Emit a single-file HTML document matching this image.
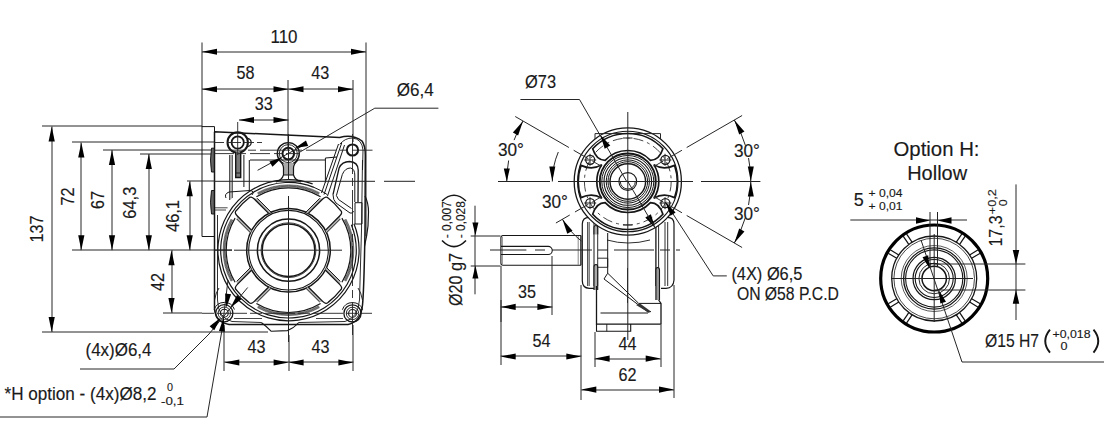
<!DOCTYPE html>
<html><head><meta charset="utf-8"><style>
html,body{margin:0;padding:0;background:#fff;width:1104px;height:440px;overflow:hidden}
svg{display:block;font-family:"Liberation Sans",sans-serif}
</style></head><body>
<svg width="1104" height="440" viewBox="0 0 1104 440">
<line x1="202.00" y1="52.00" x2="366.00" y2="52.00" stroke="#262626" stroke-width="1.0"/>
<polygon points="202.00,51.75 217.00,48.65 217.00,54.85" fill="#000"/>
<polygon points="366.00,51.75 351.00,54.85 351.00,48.65" fill="#000"/>
<text x="284.00" y="42.50" font-size="17.5" text-anchor="middle" fill="#1a1a1a" stroke="#1a1a1a" stroke-width="0.15" textLength="27" lengthAdjust="spacingAndGlyphs">110</text>
<line x1="202.00" y1="42.50" x2="202.00" y2="127.00" stroke="#262626" stroke-width="1.0"/>
<line x1="366.00" y1="42.50" x2="366.00" y2="236.00" stroke="#262626" stroke-width="1.0"/>
<line x1="202.00" y1="89.00" x2="288.50" y2="89.00" stroke="#262626" stroke-width="1.0"/>
<polygon points="202.00,89.25 217.00,86.15 217.00,92.35" fill="#000"/>
<polygon points="288.50,89.25 273.50,92.35 273.50,86.15" fill="#000"/>
<line x1="288.50" y1="89.00" x2="353.00" y2="89.00" stroke="#262626" stroke-width="1.0"/>
<polygon points="288.50,89.25 303.50,86.15 303.50,92.35" fill="#000"/>
<polygon points="353.00,89.25 338.00,92.35 338.00,86.15" fill="#000"/>
<text x="245.40" y="79.30" font-size="17.5" text-anchor="middle" fill="#1a1a1a" stroke="#1a1a1a" stroke-width="0.15" textLength="18" lengthAdjust="spacingAndGlyphs">58</text>
<text x="320.20" y="79.30" font-size="17.5" text-anchor="middle" fill="#1a1a1a" stroke="#1a1a1a" stroke-width="0.15" textLength="18" lengthAdjust="spacingAndGlyphs">43</text>
<line x1="288.00" y1="80.00" x2="288.00" y2="150.00" stroke="#262626" stroke-width="1.0"/>
<line x1="353.00" y1="80.00" x2="353.00" y2="142.00" stroke="#262626" stroke-width="1.0"/>
<line x1="239.00" y1="120.00" x2="288.50" y2="120.00" stroke="#262626" stroke-width="1.0"/>
<polygon points="239.00,120.00 254.00,116.90 254.00,123.10" fill="#000"/>
<polygon points="288.50,120.00 273.50,123.10 273.50,116.90" fill="#000"/>
<text x="263.70" y="110.00" font-size="17.5" text-anchor="middle" fill="#1a1a1a" stroke="#1a1a1a" stroke-width="0.15" textLength="18" lengthAdjust="spacingAndGlyphs">33</text>
<line x1="52.00" y1="126.50" x2="52.00" y2="332.00" stroke="#262626" stroke-width="1.0"/>
<polygon points="51.70,126.50 54.80,141.50 48.60,141.50" fill="#000"/>
<polygon points="51.70,332.00 48.60,317.00 54.80,317.00" fill="#000"/>
<text x="42.90" y="229.00" font-size="17.5" text-anchor="middle" fill="#1a1a1a" stroke="#1a1a1a" stroke-width="0.15" textLength="27" lengthAdjust="spacingAndGlyphs" transform="rotate(-90 42.90 229.00)">137</text>
<line x1="81.00" y1="142.50" x2="81.00" y2="250.20" stroke="#262626" stroke-width="1.0"/>
<polygon points="81.30,142.50 84.40,157.50 78.20,157.50" fill="#000"/>
<polygon points="81.30,250.20 78.20,235.20 84.40,235.20" fill="#000"/>
<text x="73.60" y="196.60" font-size="17.5" text-anchor="middle" fill="#1a1a1a" stroke="#1a1a1a" stroke-width="0.15" textLength="18" lengthAdjust="spacingAndGlyphs" transform="rotate(-90 73.60 196.60)">72</text>
<line x1="112.00" y1="150.00" x2="112.00" y2="250.20" stroke="#262626" stroke-width="1.0"/>
<polygon points="112.00,150.00 115.10,165.00 108.90,165.00" fill="#000"/>
<polygon points="112.00,250.20 108.90,235.20 115.10,235.20" fill="#000"/>
<text x="103.80" y="200.00" font-size="17.5" text-anchor="middle" fill="#1a1a1a" stroke="#1a1a1a" stroke-width="0.15" textLength="18" lengthAdjust="spacingAndGlyphs" transform="rotate(-90 103.80 200.00)">67</text>
<line x1="149.00" y1="154.00" x2="149.00" y2="250.20" stroke="#262626" stroke-width="1.0"/>
<polygon points="148.80,154.00 151.90,169.00 145.70,169.00" fill="#000"/>
<polygon points="148.80,250.20 145.70,235.20 151.90,235.20" fill="#000"/>
<text x="136.50" y="202.70" font-size="17.5" text-anchor="middle" fill="#1a1a1a" stroke="#1a1a1a" stroke-width="0.15" textLength="32" lengthAdjust="spacingAndGlyphs" transform="rotate(-90 136.50 202.70)">64,3</text>
<line x1="190.00" y1="181.20" x2="190.00" y2="250.20" stroke="#262626" stroke-width="1.0"/>
<polygon points="189.70,181.20 192.80,196.20 186.60,196.20" fill="#000"/>
<polygon points="189.70,250.20 186.60,235.20 192.80,235.20" fill="#000"/>
<text x="178.50" y="216.00" font-size="17.5" text-anchor="middle" fill="#1a1a1a" stroke="#1a1a1a" stroke-width="0.15" textLength="32" lengthAdjust="spacingAndGlyphs" transform="rotate(-90 178.50 216.00)">46,1</text>
<line x1="172.00" y1="250.20" x2="172.00" y2="313.00" stroke="#262626" stroke-width="1.0"/>
<polygon points="171.50,250.20 174.60,265.20 168.40,265.20" fill="#000"/>
<polygon points="171.50,313.00 168.40,298.00 174.60,298.00" fill="#000"/>
<text x="164.00" y="282.00" font-size="17.5" text-anchor="middle" fill="#1a1a1a" stroke="#1a1a1a" stroke-width="0.15" textLength="18" lengthAdjust="spacingAndGlyphs" transform="rotate(-90 164.00 282.00)">42</text>
<line x1="42.00" y1="126.00" x2="202.00" y2="126.00" stroke="#262626" stroke-width="1.0"/>
<line x1="72.00" y1="142.00" x2="214.00" y2="142.00" stroke="#262626" stroke-width="1.0"/>
<line x1="103.00" y1="150.00" x2="214.00" y2="150.00" stroke="#262626" stroke-width="1.0"/>
<line x1="140.00" y1="154.00" x2="214.00" y2="154.00" stroke="#262626" stroke-width="1.0"/>
<line x1="187.00" y1="181.00" x2="214.00" y2="181.00" stroke="#262626" stroke-width="1.0"/>
<line x1="72.00" y1="250.00" x2="232.00" y2="250.00" stroke="#262626" stroke-width="1.0"/>
<line x1="163.00" y1="313.00" x2="202.00" y2="313.00" stroke="#262626" stroke-width="1.0"/>
<line x1="42.00" y1="332.00" x2="268.00" y2="332.00" stroke="#262626" stroke-width="1.0"/>
<line x1="224.30" y1="362.00" x2="288.60" y2="362.00" stroke="#262626" stroke-width="1.0"/>
<polygon points="224.30,362.50 239.30,359.40 239.30,365.60" fill="#000"/>
<polygon points="288.60,362.50 273.60,365.60 273.60,359.40" fill="#000"/>
<line x1="288.60" y1="362.00" x2="353.40" y2="362.00" stroke="#262626" stroke-width="1.0"/>
<polygon points="288.60,362.50 303.60,359.40 303.60,365.60" fill="#000"/>
<polygon points="353.40,362.50 338.40,365.60 338.40,359.40" fill="#000"/>
<text x="256.50" y="352.70" font-size="17.5" text-anchor="middle" fill="#1a1a1a" stroke="#1a1a1a" stroke-width="0.15" textLength="18" lengthAdjust="spacingAndGlyphs">43</text>
<text x="320.50" y="352.70" font-size="17.5" text-anchor="middle" fill="#1a1a1a" stroke="#1a1a1a" stroke-width="0.15" textLength="18" lengthAdjust="spacingAndGlyphs">43</text>
<line x1="224.00" y1="325.00" x2="224.00" y2="371.00" stroke="#262626" stroke-width="1.0"/>
<line x1="353.00" y1="325.00" x2="353.00" y2="371.00" stroke="#262626" stroke-width="1.0"/>
<line x1="289.00" y1="335.00" x2="289.00" y2="371.00" stroke="#262626" stroke-width="1.0"/>
<polyline points="80.00,369.00 174.00,369.00 209.00,334.00" fill="none" stroke="#262626" stroke-width="1.0"/>
<text x="118.50" y="356.00" font-size="17.5" text-anchor="middle" fill="#1a1a1a" stroke="#1a1a1a" stroke-width="0.15" textLength="66" lengthAdjust="spacingAndGlyphs">(4x)&#216;6,4</text>
<polyline points="0.00,417.00 207.00,417.00 222.00,330.00" fill="none" stroke="#262626" stroke-width="1.0"/>
<text x="4.50" y="400.00" font-size="17.5" text-anchor="start" fill="#1a1a1a" stroke="#1a1a1a" stroke-width="0.15" textLength="152" lengthAdjust="spacingAndGlyphs">*H option - (4x)&#216;8,2</text>
<text x="170.00" y="391.00" font-size="11" text-anchor="middle" fill="#1a1a1a" stroke="#1a1a1a" stroke-width="0.15" textLength="6" lengthAdjust="spacingAndGlyphs">0</text>
<text x="172.50" y="405.00" font-size="11" text-anchor="middle" fill="#1a1a1a" stroke="#1a1a1a" stroke-width="0.15" textLength="23" lengthAdjust="spacingAndGlyphs">-0,1</text>
<polyline points="438.40,108.20 374.80,108.20 300.00,152.00" fill="none" stroke="#262626" stroke-width="1.0"/>
<text x="415.20" y="96.40" font-size="17.5" text-anchor="middle" fill="#1a1a1a" stroke="#1a1a1a" stroke-width="0.15" textLength="37" lengthAdjust="spacingAndGlyphs">&#216;6,4</text>
<path d="M202,236.5 L202,126.6 L214.5,126.6 L214.5,236.5 Z" fill="none" stroke="#161616" stroke-width="1.0" />
<path d="M211.5,148.2 Q209.5,160 211.5,172 L214.5,172 L214.5,148.2 Z" fill="#666" stroke="#161616" stroke-width="1.0" />
<path d="M211.5,190.5 Q209.5,202 211.5,214 L214.5,214 L214.5,190.5 Z" fill="#666" stroke="#161616" stroke-width="1.0" />
<path d="M214.5,131.8 L339.7,137.5 Q352.5,134 362,141 Q365.5,146 365.3,156 L365,230 Q364,290 362.5,305 Q361,322 348,324.4 L229,324.4 Q215.5,322 214.5,309 L214.5,131.8" fill="none" stroke="#161616" stroke-width="1.5" />
<path d="M217.5,215 L217.5,300 Q218,318 232,321.5 L261.3,322.5 M298.8,322.5 L345,321.5 Q358,318 359.5,300 L361.5,230 L362.5,160" fill="none" stroke="#161616" stroke-width="0.9" />
<path d="M261.3,322.5 Q266,326 271.3,331.3 L287.5,330.6 Q294,328 298.8,322.5" fill="none" stroke="#161616" stroke-width="1.1" />
<path d="M339.7,144.3 Q345,138 352.5,138 Q362,139 363,150 L362.5,170" fill="none" stroke="#161616" stroke-width="0.9" />
<path d="M341.8,142.7 L324,194.6 M344.5,145 L327.5,196 M338.5,144 L321.5,193" fill="none" stroke="#161616" stroke-width="1.0" />
<path d="M333,194.6 L339.1,168 Q342,161.5 349.5,161.5 Q358,162 358.2,170 L358,202" fill="none" stroke="#161616" stroke-width="1.3" />
<path d="M336.4,195.5 L342.3,174.5 Q345,168 350.5,168 Q354.8,169 354.8,175 L354.8,202" fill="none" stroke="#161616" stroke-width="1.0" />
<path d="M333,194.6 Q333,200 336,203 L350,213 Q353,214 353.5,211 M336.4,195.5 L338.5,199.5 L351.5,208.5" fill="none" stroke="#161616" stroke-width="1.0" />
<path d="M355,202.7 L362,202.7 L362,224 L355,224 Z" fill="none" stroke="#161616" stroke-width="1.0" />
<path d="M325.4,182.5 L325.4,158 L337,157" fill="none" stroke="#161616" stroke-width="1.0" />
<line x1="250.00" y1="160.00" x2="325.40" y2="160.00" stroke="#161616" stroke-width="1.0"/>
<path d="M229.6,155 L229.6,200" fill="none" stroke="#161616" stroke-width="1.2" />
<path d="M232.3,155 L232.3,198" fill="none" stroke="#161616" stroke-width="1.0" />
<path d="M229.6,155 L232.3,155 L232.3,198 L229.6,200 Z" fill="#aaa" stroke="#161616" stroke-width="0" />
<path d="M243.9,155 L243.9,187" fill="none" stroke="#161616" stroke-width="1.0" />
<path d="M249.3,160 L249.3,190" fill="none" stroke="#161616" stroke-width="1.0" />
<path d="M226,198 Q224,194 229,192 L250,190.5 Q255,191 252,195" fill="none" stroke="#161616" stroke-width="1.0" />
<path d="M214.5,207.8 L227.6,207.8 M214.5,210 L226,210" fill="none" stroke="#161616" stroke-width="0.8" />
<circle cx="288.50" cy="250.20" r="26.30" fill="none" stroke="#161616" stroke-width="1.5"/>
<circle cx="288.50" cy="250.20" r="27.40" fill="none" stroke="#161616" stroke-width="0.8"/>
<circle cx="288.50" cy="250.20" r="31.10" fill="none" stroke="#161616" stroke-width="1.5"/>
<circle cx="288.50" cy="250.20" r="39.80" fill="none" stroke="#161616" stroke-width="1.1"/>
<circle cx="288.50" cy="250.20" r="41.80" fill="none" stroke="#161616" stroke-width="1.5"/>
<path d="M351.36,224.80 A67.80,67.80 0 1 1 313.90,187.34" fill="none" stroke="#161616" stroke-width="1.2"/>
<path d="M353.96,223.75 A70.60,70.60 0 1 1 312.65,183.86" fill="none" stroke="#161616" stroke-width="1.2"/>
<path d="M313.90,187.34 A67.80,67.80 0 0 1 327.39,194.66" fill="none" stroke="#161616" stroke-width="1.0"/>
<path d="M256.41,196.80 A62.30,62.30 0 0 1 320.59,196.80" fill="none" stroke="#161616" stroke-width="1.2"/>
<path d="M258.25,194.48 A63.40,63.40 0 0 1 318.75,194.48" fill="none" stroke="#161616" stroke-width="0.55"/>
<path d="M257.94,193.91 A64.05,64.05 0 0 1 319.06,193.91" fill="none" stroke="#161616" stroke-width="0.55"/>
<path d="M257.63,193.34 A64.70,64.70 0 0 1 319.37,193.34" fill="none" stroke="#161616" stroke-width="0.55"/>
<path d="M257.32,192.77 A65.35,65.35 0 0 1 319.68,192.77" fill="none" stroke="#161616" stroke-width="0.55"/>
<path d="M320.59,303.60 A62.30,62.30 0 0 1 256.41,303.60" fill="none" stroke="#161616" stroke-width="1.2"/>
<path d="M318.75,305.92 A63.40,63.40 0 0 1 258.25,305.92" fill="none" stroke="#161616" stroke-width="0.55"/>
<path d="M319.06,306.49 A64.05,64.05 0 0 1 257.94,306.49" fill="none" stroke="#161616" stroke-width="0.55"/>
<path d="M319.37,307.06 A64.70,64.70 0 0 1 257.63,307.06" fill="none" stroke="#161616" stroke-width="0.55"/>
<path d="M319.68,307.63 A65.35,65.35 0 0 1 257.32,307.63" fill="none" stroke="#161616" stroke-width="0.55"/>
<path d="M235.10,282.29 A62.30,62.30 0 0 1 235.10,218.11" fill="none" stroke="#161616" stroke-width="1.2"/>
<path d="M232.78,280.45 A63.40,63.40 0 0 1 232.78,219.95" fill="none" stroke="#161616" stroke-width="0.55"/>
<path d="M232.21,280.76 A64.05,64.05 0 0 1 232.21,219.64" fill="none" stroke="#161616" stroke-width="0.55"/>
<path d="M231.64,281.07 A64.70,64.70 0 0 1 231.64,219.33" fill="none" stroke="#161616" stroke-width="0.55"/>
<path d="M231.07,281.38 A65.35,65.35 0 0 1 231.07,219.02" fill="none" stroke="#161616" stroke-width="0.55"/>
<path d="M341.90,218.11 A62.30,62.30 0 0 1 341.90,282.29" fill="none" stroke="#161616" stroke-width="1.2"/>
<path d="M344.22,219.95 A63.40,63.40 0 0 1 344.22,280.45" fill="none" stroke="#161616" stroke-width="0.55"/>
<path d="M344.79,219.64 A64.05,64.05 0 0 1 344.79,280.76" fill="none" stroke="#161616" stroke-width="0.55"/>
<path d="M345.36,219.33 A64.70,64.70 0 0 1 345.36,281.07" fill="none" stroke="#161616" stroke-width="0.55"/>
<path d="M345.93,219.02 A65.35,65.35 0 0 1 345.93,281.38" fill="none" stroke="#161616" stroke-width="0.55"/>
<path d="M308.33,287.00 L323.03,301.70 L319.69,302.04 L305.87,288.22 Z" fill="#b4b4b4" stroke="#161616" stroke-width="0" />
<line x1="305.87" y1="288.22" x2="319.69" y2="302.04" stroke="#161616" stroke-width="1.0"/>
<path d="M325.30,270.03 L340.00,284.73 L340.34,281.39 L326.52,267.57 Z" fill="#b4b4b4" stroke="#161616" stroke-width="0" />
<line x1="326.52" y1="267.57" x2="340.34" y2="281.39" stroke="#161616" stroke-width="1.0"/>
<path d="M308.33,287.00 L322.67,301.34 Q326.27,304.94 328.41,302.13 A65.5,65.5 0 0 0 340.43,290.11 Q343.24,287.97 339.64,284.37 L325.30,270.03" fill="none" stroke="#161616" stroke-width="1.3" />
<path d="M251.70,270.03 L237.00,284.73 L236.66,281.39 L250.48,267.57 Z" fill="#b4b4b4" stroke="#161616" stroke-width="0" />
<line x1="250.48" y1="267.57" x2="236.66" y2="281.39" stroke="#161616" stroke-width="1.0"/>
<path d="M268.67,287.00 L253.97,301.70 L257.31,302.04 L271.13,288.22 Z" fill="#b4b4b4" stroke="#161616" stroke-width="0" />
<line x1="271.13" y1="288.22" x2="257.31" y2="302.04" stroke="#161616" stroke-width="1.0"/>
<path d="M251.70,270.03 L237.36,284.37 Q233.76,287.97 236.57,290.11 A65.5,65.5 0 0 0 248.59,302.13 Q250.73,304.94 254.33,301.34 L268.67,287.00" fill="none" stroke="#161616" stroke-width="1.3" />
<path d="M268.67,213.40 L253.97,198.70 L257.31,198.36 L271.13,212.18 Z" fill="#b4b4b4" stroke="#161616" stroke-width="0" />
<line x1="271.13" y1="212.18" x2="257.31" y2="198.36" stroke="#161616" stroke-width="1.0"/>
<path d="M251.70,230.37 L237.00,215.67 L236.66,219.01 L250.48,232.83 Z" fill="#b4b4b4" stroke="#161616" stroke-width="0" />
<line x1="250.48" y1="232.83" x2="236.66" y2="219.01" stroke="#161616" stroke-width="1.0"/>
<path d="M268.67,213.40 L254.33,199.06 Q250.73,195.46 248.59,198.27 A65.5,65.5 0 0 0 236.57,210.29 Q233.76,212.43 237.36,216.03 L251.70,230.37" fill="none" stroke="#161616" stroke-width="1.3" />
<path d="M325.30,230.37 L340.00,215.67 L340.34,219.01 L326.52,232.83 Z" fill="#b4b4b4" stroke="#161616" stroke-width="0" />
<line x1="326.52" y1="232.83" x2="340.34" y2="219.01" stroke="#161616" stroke-width="1.0"/>
<path d="M308.33,213.40 L323.03,198.70 L319.69,198.36 L305.87,212.18 Z" fill="#b4b4b4" stroke="#161616" stroke-width="0" />
<line x1="305.87" y1="212.18" x2="319.69" y2="198.36" stroke="#161616" stroke-width="1.0"/>
<path d="M325.30,230.37 L339.64,216.03 Q343.24,212.43 340.43,210.29 A65.5,65.5 0 0 0 328.41,198.27 Q326.27,195.46 322.67,199.06 L308.33,213.40" fill="none" stroke="#161616" stroke-width="1.3" />
<path d="M214.15,309.51 A10.80,10.80 0 0 1 234.45,309.51" fill="none" stroke="#161616" stroke-width="1.0"/>
<path d="M342.35,309.71 A10.80,10.80 0 0 1 362.65,309.71" fill="none" stroke="#161616" stroke-width="1.0"/>
<path d="M214.5,300 Q216,292 219,288 M362.5,300 Q361,292 358,288" fill="none" stroke="#161616" stroke-width="0.9" />
<line x1="234.00" y1="318.50" x2="262.00" y2="318.50" stroke="#161616" stroke-width="0.8"/>
<line x1="316.00" y1="318.50" x2="343.00" y2="318.50" stroke="#161616" stroke-width="0.8"/>
<circle cx="237.70" cy="142.50" r="10.20" fill="none" stroke="#161616" stroke-width="2.0"/>
<circle cx="237.70" cy="142.50" r="6.10" fill="none" stroke="#161616" stroke-width="1.8"/>
<path d="M247.2,138.5 A4,4 0 1 1 247.2,146.5" fill="none" stroke="#161616" stroke-width="1.3" />
<circle cx="288.30" cy="153.60" r="11.00" fill="none" stroke="#161616" stroke-width="1.4"/>
<circle cx="288.30" cy="153.60" r="9.00" fill="none" stroke="#161616" stroke-width="0.9"/>
<circle cx="288.30" cy="153.60" r="5.80" fill="none" stroke="#161616" stroke-width="2.0"/>
<circle cx="352.50" cy="150.00" r="5.60" fill="none" stroke="#161616" stroke-width="2.0"/>
<circle cx="224.30" cy="313.20" r="8.60" fill="none" stroke="#161616" stroke-width="1.3"/>
<circle cx="224.30" cy="313.20" r="6.20" fill="none" stroke="#161616" stroke-width="0.9"/>
<circle cx="224.30" cy="313.20" r="3.90" fill="none" stroke="#161616" stroke-width="1.1"/>
<circle cx="352.50" cy="313.40" r="8.60" fill="none" stroke="#161616" stroke-width="1.3"/>
<circle cx="352.50" cy="313.40" r="6.20" fill="none" stroke="#161616" stroke-width="0.9"/>
<circle cx="352.50" cy="313.40" r="3.90" fill="none" stroke="#161616" stroke-width="1.1"/>
<path d="M235.7,152 L235.7,177.5 L240.7,177.5 L240.7,152" fill="#777" stroke="#161616" stroke-width="1.4" />
<line x1="236.00" y1="173.00" x2="240.50" y2="173.00" stroke="#161616" stroke-width="0.9"/>
<path d="M283.5,163 L293.5,163 L293.5,175 L283.5,175 Z" fill="#aaa" stroke="#161616" stroke-width="0" />
<path d="M279,160 Q283.5,164 283.5,168 L283.5,175 Q282,180 276,182 M298,160 Q293.5,164 293.5,168 L293.5,175 Q295,180 301,182" fill="none" stroke="#161616" stroke-width="1.2" />
<line x1="283.50" y1="175.00" x2="293.50" y2="175.00" stroke="#161616" stroke-width="1.0"/>
<line x1="288.50" y1="163.00" x2="288.50" y2="175.00" stroke="#161616" stroke-width="0.8"/>
<line x1="288.50" y1="134.00" x2="288.50" y2="180.00" stroke="#222" stroke-width="1.0"/>
<line x1="288.50" y1="196.00" x2="288.50" y2="342.00" stroke="#222" stroke-width="1.0"/>
<line x1="214.00" y1="250.20" x2="232.00" y2="250.20" stroke="#222" stroke-width="1.0"/>
<line x1="234.00" y1="250.20" x2="342.00" y2="250.20" stroke="#222" stroke-width="1.0"/>
<line x1="214.00" y1="142.50" x2="262.00" y2="142.50" stroke="#222" stroke-width="0.9" stroke-dasharray="10 3 14 3"/>
<line x1="214.00" y1="150.20" x2="372.50" y2="150.20" stroke="#222" stroke-width="0.9" stroke-dasharray="30 4 8 4"/>
<line x1="214.00" y1="153.60" x2="300.00" y2="153.60" stroke="#222" stroke-width="0.9" stroke-dasharray="20 4 8 4"/>
<line x1="214.00" y1="181.30" x2="375.00" y2="181.30" stroke="#222" stroke-width="1.0"/>
<line x1="384.00" y1="181.30" x2="415.00" y2="181.30" stroke="#222" stroke-width="1.0"/>
<line x1="202.00" y1="313.30" x2="372.00" y2="313.30" stroke="#222" stroke-width="0.9" stroke-dasharray="12 3 30 3"/>
<line x1="352.50" y1="134.00" x2="352.50" y2="335.00" stroke="#222" stroke-width="0.9" stroke-dasharray="40 4 8 4"/>
<line x1="237.70" y1="122.00" x2="237.70" y2="155.00" stroke="#222" stroke-width="0.9"/>
<line x1="257.60" y1="170.30" x2="306.90" y2="143.30" stroke="#262626" stroke-width="1.0"/>
<polygon points="282.20,157.60 272.46,166.72 269.45,161.53" fill="#000"/>
<polygon points="295.00,148.00 305.96,140.39 308.18,145.96" fill="#000"/>
<line x1="209.00" y1="334.00" x2="247.70" y2="287.50" stroke="#262626" stroke-width="1.0"/>
<line x1="174.00" y1="369.00" x2="209.00" y2="334.00" stroke="#262626" stroke-width="1.0"/>
<polygon points="220.90,317.50 214.26,330.18 209.64,326.35" fill="#000"/>
<polygon points="230.40,307.80 237.04,295.12 241.66,298.95" fill="#000"/>
<line x1="222.00" y1="330.00" x2="228.00" y2="280.00" stroke="#262626" stroke-width="1.0"/>
<polygon points="223.60,317.50 224.91,331.76 218.95,331.04" fill="#000"/>
<polygon points="226.40,307.70 225.09,293.44 231.05,294.16" fill="#000"/>
<path d="M365,196 Q368.5,203 368.5,212 L368,226 Q367,236 364.5,246" fill="none" stroke="#161616" stroke-width="1.2" />
<path d="M582.3,290 L582.3,224 Q582.5,217.3 589,217.3 L667.5,217.3 Q674,217.3 674,224 L674,280 Q673.5,288 666,288.3 L589.3,288.3 Q582,288 581.4,282.7 Z" fill="#fff" stroke="#161616" stroke-width="0" />
<path d="M596.5,288.3 L589.3,288.3 Q582,288 582.3,280 L582.3,224 Q582.5,217.3 589,217.3 L667.5,217.3 Q674,217.3 674,224 L674,280 Q673.5,288 666,288.3 L661,288.3" fill="none" stroke="#161616" stroke-width="1.2" />
<line x1="587.70" y1="222.00" x2="587.70" y2="286.00" stroke="#161616" stroke-width="0.9"/>
<line x1="589.20" y1="222.00" x2="589.20" y2="286.00" stroke="#161616" stroke-width="0.8"/>
<line x1="594.00" y1="222.00" x2="594.00" y2="286.00" stroke="#161616" stroke-width="1.0"/>
<line x1="597.70" y1="222.00" x2="597.70" y2="286.00" stroke="#161616" stroke-width="0.9"/>
<line x1="655.90" y1="222.00" x2="655.90" y2="286.00" stroke="#161616" stroke-width="1.3"/>
<line x1="658.60" y1="222.00" x2="658.60" y2="286.00" stroke="#161616" stroke-width="0.9"/>
<line x1="665.00" y1="222.00" x2="665.00" y2="286.00" stroke="#161616" stroke-width="0.9"/>
<line x1="667.70" y1="222.00" x2="667.70" y2="286.00" stroke="#161616" stroke-width="0.9"/>
<path d="M594,234.5 L594,227.5 Q594,225.5 596,225.5 Q597.7,225.5 597.7,228 L597.7,234.5" fill="#aaa" stroke="#161616" stroke-width="1.1" />
<path d="M594,290 L594,267 Q594,264.5 596,264.5 Q597.7,264.5 597.7,267 L597.7,290" fill="#aaa" stroke="#161616" stroke-width="1.1" />
<path d="M655.9,300 L655.9,270 Q655.9,267.5 657.5,267.5 Q659.5,267.5 659.5,270 L659.5,300" fill="#999" stroke="#161616" stroke-width="1.1" />
<path d="M597.7,258.2 L607.7,258.2 L607.7,267.3 L597.7,267.3" fill="none" stroke="#161616" stroke-width="0.9" />
<line x1="607.70" y1="233.00" x2="607.70" y2="273.20" stroke="#161616" stroke-width="1.0"/>
<path d="M607,240 Q628,246 650,240" fill="none" stroke="#161616" stroke-width="0.9" />
<path d="M596.5,286 L596.5,324.1 L661,324.1 L661,303.4 L658.6,300" fill="none" stroke="#161616" stroke-width="1.3" />
<path d="M607.7,273.2 L638.7,303.4 M604,279 L648.2,312.2 L651,311.5" fill="none" stroke="#161616" stroke-width="1.0" />
<path d="M607.7,273.2 L604,279" fill="none" stroke="#161616" stroke-width="1.0" />
<path d="M636,305 L648.2,312.2 L651,311.5 L640,303.4 Z" fill="#333" stroke="#161616" stroke-width="0" />
<line x1="600.50" y1="313.00" x2="648.00" y2="313.00" stroke="#161616" stroke-width="1.0"/>
<line x1="638.70" y1="303.40" x2="661.00" y2="303.40" stroke="#161616" stroke-width="1.0"/>
<path d="M596.5,324.1 L596.5,331.3 L630.7,331.3 L630.7,324.1" fill="none" stroke="#161616" stroke-width="1.1" />
<line x1="606.80" y1="324.10" x2="606.80" y2="331.30" stroke="#161616" stroke-width="0.9"/>
<line x1="627.50" y1="268.00" x2="627.50" y2="303.00" stroke="#161616" stroke-width="0.8"/>
<circle cx="627.80" cy="181.50" r="53.60" fill="#fff" stroke="#161616" stroke-width="1.3"/>
<circle cx="627.80" cy="181.50" r="50.20" fill="none" stroke="#161616" stroke-width="1.1"/>
<polyline points="595.00,139.00 595.00,133.60 660.50,133.60 660.50,139.00" fill="none" stroke="#262626" stroke-width="1.0"/>
<circle cx="627.80" cy="181.50" r="43.40" fill="none" stroke="#161616" stroke-width="0.8" stroke-dasharray="10 4 3 4"/>
<line x1="623.00" y1="138.00" x2="632.50" y2="138.00" stroke="#262626" stroke-width="1.0"/>
<line x1="623.00" y1="225.00" x2="632.50" y2="225.00" stroke="#262626" stroke-width="1.0"/>
<path d="M592.70,148.76 A48.00,48.00 0 0 1 662.90,148.76 Q659.30,160.25 650.47,160.36 A31.00,31.00 0 0 0 605.13,160.36 Q596.30,160.25 592.70,148.76 Z" fill="none" stroke="#161616" stroke-width="1.7" />
<path d="M662.90,214.24 A48.00,48.00 0 0 1 592.70,214.24 Q596.30,202.75 605.13,202.64 A31.00,31.00 0 0 0 650.47,202.64 Q659.30,202.75 662.90,214.24 Z" fill="none" stroke="#161616" stroke-width="1.7" />
<path d="M581.00,197.62 A49.50,49.50 0 0 1 581.00,165.38 Q592.42,170.68 601.80,164.62 A31.00,31.00 0 0 0 601.80,198.38 Q592.42,192.32 581.00,197.62 Z" fill="none" stroke="#161616" stroke-width="1.7" />
<path d="M674.60,165.38 A49.50,49.50 0 0 1 674.60,197.62 Q663.18,192.32 653.80,198.38 A31.00,31.00 0 0 0 653.80,164.62 Q663.18,170.68 674.60,165.38 Z" fill="none" stroke="#161616" stroke-width="1.7" />
<circle cx="665.39" cy="203.20" r="4.50" fill="none" stroke="#161616" stroke-width="1.3"/>
<line x1="659.39" y1="203.00" x2="671.39" y2="203.00" stroke="#262626" stroke-width="1.0"/>
<line x1="665.00" y1="197.20" x2="665.00" y2="209.20" stroke="#262626" stroke-width="1.0"/>
<circle cx="590.21" cy="203.20" r="4.50" fill="none" stroke="#161616" stroke-width="1.3"/>
<line x1="584.21" y1="203.00" x2="596.21" y2="203.00" stroke="#262626" stroke-width="1.0"/>
<line x1="590.00" y1="197.20" x2="590.00" y2="209.20" stroke="#262626" stroke-width="1.0"/>
<circle cx="590.21" cy="159.80" r="4.50" fill="none" stroke="#161616" stroke-width="1.3"/>
<line x1="584.21" y1="160.00" x2="596.21" y2="160.00" stroke="#262626" stroke-width="1.0"/>
<line x1="590.00" y1="153.80" x2="590.00" y2="165.80" stroke="#262626" stroke-width="1.0"/>
<circle cx="665.39" cy="159.80" r="4.50" fill="none" stroke="#161616" stroke-width="1.3"/>
<line x1="659.39" y1="160.00" x2="671.39" y2="160.00" stroke="#262626" stroke-width="1.0"/>
<line x1="665.00" y1="153.80" x2="665.00" y2="165.80" stroke="#262626" stroke-width="1.0"/>
<circle cx="627.80" cy="181.50" r="28.00" fill="none" stroke="#161616" stroke-width="1.9"/>
<circle cx="627.80" cy="181.50" r="26.00" fill="none" stroke="#161616" stroke-width="1.0"/>
<circle cx="627.80" cy="181.50" r="23.80" fill="none" stroke="#161616" stroke-width="1.1"/>
<circle cx="627.80" cy="181.50" r="21.60" fill="none" stroke="#161616" stroke-width="1.0"/>
<circle cx="627.80" cy="181.50" r="19.80" fill="none" stroke="#161616" stroke-width="1.0"/>
<circle cx="627.80" cy="181.50" r="17.80" fill="none" stroke="#161616" stroke-width="1.4"/>
<circle cx="627.80" cy="181.50" r="8.90" fill="none" stroke="#161616" stroke-width="1.1"/>
<path d="M620.30,181.50 A7.5,7.5 0 0 0 635.30,181.50" fill="none" stroke="#161616" stroke-width="0.9" />
<line x1="627.80" y1="112.00" x2="627.80" y2="340.00" stroke="#222" stroke-width="1.0"/>
<line x1="498.00" y1="181.50" x2="550.00" y2="181.50" stroke="#222" stroke-width="1.0"/>
<line x1="558.00" y1="181.50" x2="693.00" y2="181.50" stroke="#222" stroke-width="1.0"/>
<line x1="701.00" y1="181.50" x2="760.40" y2="181.50" stroke="#222" stroke-width="1.0"/>
<path d="M580.9,235.5 L503,235.5 Q500.9,235.7 500.9,238 L500.9,263 Q500.9,265.2 503,265.2 L580.9,265.2" fill="none" stroke="#161616" stroke-width="1.1" />
<line x1="502.30" y1="237.00" x2="502.30" y2="264.00" stroke="#888" stroke-width="1.0"/>
<line x1="578.20" y1="236.00" x2="578.20" y2="265.00" stroke="#888" stroke-width="1.0"/>
<path d="M501,246.4 L548.2,246.4 A4.05,4.05 0 0 1 548.2,254.5 L501,254.5" fill="none" stroke="#161616" stroke-width="1.1" />
<line x1="580.90" y1="235.50" x2="580.90" y2="265.20" stroke="#111" stroke-width="1.3"/>
<line x1="490.00" y1="250.00" x2="526.40" y2="250.00" stroke="#222" stroke-width="1.0"/>
<line x1="535.00" y1="250.00" x2="545.00" y2="250.00" stroke="#222" stroke-width="1.0"/>
<line x1="552.00" y1="250.00" x2="680.00" y2="250.00" stroke="#222" stroke-width="1.0" stroke-dasharray="40 6 10 6"/>
<line x1="588.31" y1="158.70" x2="573.67" y2="150.25" stroke="#262626" stroke-width="1.0"/>
<line x1="568.91" y1="147.50" x2="515.22" y2="116.50" stroke="#262626" stroke-width="1.0"/>
<line x1="667.29" y1="158.70" x2="681.93" y2="150.25" stroke="#262626" stroke-width="1.0"/>
<line x1="686.69" y1="147.50" x2="742.12" y2="115.50" stroke="#262626" stroke-width="1.0"/>
<line x1="667.29" y1="204.30" x2="681.93" y2="212.75" stroke="#262626" stroke-width="1.0"/>
<line x1="686.69" y1="215.50" x2="742.12" y2="247.50" stroke="#262626" stroke-width="1.0"/>
<line x1="588.31" y1="204.30" x2="574.97" y2="212.00" stroke="#262626" stroke-width="1.0"/>
<line x1="569.78" y1="215.00" x2="555.92" y2="223.00" stroke="#262626" stroke-width="1.0"/>
<line x1="601.82" y1="166.50" x2="592.29" y2="161.00" stroke="#333" stroke-width="1.0"/>
<line x1="653.78" y1="166.50" x2="663.31" y2="161.00" stroke="#333" stroke-width="1.0"/>
<line x1="653.78" y1="196.50" x2="663.31" y2="202.00" stroke="#333" stroke-width="1.0"/>
<line x1="601.82" y1="196.50" x2="592.29" y2="202.00" stroke="#333" stroke-width="1.0"/>
<path d="M506.80,181.50 A121.00,121.00 0 0 1 508.64,160.49" fill="none" stroke="#262626" stroke-width="1.0"/>
<path d="M514.10,140.12 A121.00,121.00 0 0 1 523.01,121.00" fill="none" stroke="#262626" stroke-width="1.0"/>
<polygon points="506.80,181.50 503.80,168.50 509.80,168.50" fill="#000"/>
<text x="511.00" y="155.50" font-size="17.5" text-anchor="middle" fill="#1a1a1a" stroke="#1a1a1a" stroke-width="0.15" textLength="26" lengthAdjust="spacingAndGlyphs">30&#176;</text>
<path d="M734.32,120.00 A123.00,123.00 0 0 1 745.43,145.54" fill="none" stroke="#262626" stroke-width="1.0"/>
<path d="M748.54,158.03 A123.00,123.00 0 0 1 750.80,181.50" fill="none" stroke="#262626" stroke-width="1.0"/>
<path d="M750.80,181.50 A123.00,123.00 0 0 1 748.54,204.97" fill="none" stroke="#262626" stroke-width="1.0"/>
<path d="M745.43,217.46 A123.00,123.00 0 0 1 734.32,243.00" fill="none" stroke="#262626" stroke-width="1.0"/>
<polygon points="523.01,121.00 518.11,135.49 512.91,132.49" fill="#000"/>
<polygon points="734.32,120.00 744.42,131.49 739.22,134.49" fill="#000"/>
<polygon points="750.80,181.50 747.80,166.50 753.80,166.50" fill="#000"/>
<polygon points="750.80,181.50 753.80,196.50 747.80,196.50" fill="#000"/>
<polygon points="734.32,243.00 739.22,228.51 744.42,231.51" fill="#000"/>
<text x="747.00" y="156.50" font-size="17.5" text-anchor="middle" fill="#1a1a1a" stroke="#1a1a1a" stroke-width="0.15" textLength="26" lengthAdjust="spacingAndGlyphs">30&#176;</text>
<text x="747.00" y="219.50" font-size="17.5" text-anchor="middle" fill="#1a1a1a" stroke="#1a1a1a" stroke-width="0.15" textLength="26" lengthAdjust="spacingAndGlyphs">30&#176;</text>
<path d="M552.30,181.50 A75.50,75.50 0 0 1 558.30,152.00" fill="none" stroke="#262626" stroke-width="1.0"/>
<polygon points="552.30,181.50 549.30,166.50 555.30,166.50" fill="#000"/>
<path d="M581.32,240.99 A75.50,75.50 0 0 1 562.42,219.25" fill="none" stroke="#262626" stroke-width="1.0"/>
<polygon points="562.42,219.25 572.51,230.74 567.32,233.74" fill="#000"/>
<text x="555.00" y="207.50" font-size="17.5" text-anchor="middle" fill="#1a1a1a" stroke="#1a1a1a" stroke-width="0.15" textLength="26" lengthAdjust="spacingAndGlyphs">30&#176;</text>
<polyline points="520.40,99.50 579.50,99.50 627.00,182.00" fill="none" stroke="#262626" stroke-width="1.0"/>
<polygon points="600.39,134.97 610.30,145.38 604.70,148.68" fill="#000"/>
<polygon points="655.21,228.03 645.30,217.62 650.90,214.32" fill="#000"/>
<line x1="627.80" y1="181.50" x2="655.21" y2="228.03" stroke="#262626" stroke-width="1.0"/>
<text x="540.50" y="87.70" font-size="17.5" text-anchor="middle" fill="#1a1a1a" stroke="#1a1a1a" stroke-width="0.15" textLength="31" lengthAdjust="spacingAndGlyphs">&#216;73</text>
<polyline points="665.50,202.30 713.20,275.90 726.80,275.90" fill="none" stroke="#262626" stroke-width="1.0"/>
<polygon points="665.50,202.30 675.59,212.45 670.55,215.70" fill="#000"/>
<text x="731.40" y="280.00" font-size="17.5" text-anchor="start" fill="#1a1a1a" stroke="#1a1a1a" stroke-width="0.15" textLength="71" lengthAdjust="spacingAndGlyphs">(4X) &#216;6,5</text>
<text x="736.90" y="300.00" font-size="17.5" text-anchor="start" fill="#1a1a1a" stroke="#1a1a1a" stroke-width="0.15" textLength="102" lengthAdjust="spacingAndGlyphs">ON &#216;58 P.C.D</text>
<line x1="500.70" y1="307.00" x2="552.40" y2="307.00" stroke="#262626" stroke-width="1.0"/>
<polygon points="500.70,306.90 515.70,303.80 515.70,310.00" fill="#000"/>
<polygon points="552.40,306.90 537.40,310.00 537.40,303.80" fill="#000"/>
<text x="527.00" y="297.50" font-size="17.5" text-anchor="middle" fill="#1a1a1a" stroke="#1a1a1a" stroke-width="0.15" textLength="18" lengthAdjust="spacingAndGlyphs">35</text>
<line x1="501.00" y1="266.00" x2="501.00" y2="322.00" stroke="#262626" stroke-width="1.0"/>
<line x1="552.00" y1="256.00" x2="552.00" y2="315.00" stroke="#262626" stroke-width="1.0"/>
<line x1="500.70" y1="356.00" x2="581.30" y2="356.00" stroke="#262626" stroke-width="1.0"/>
<polygon points="500.70,356.50 515.70,353.40 515.70,359.60" fill="#000"/>
<polygon points="581.30,356.50 566.30,359.60 566.30,353.40" fill="#000"/>
<text x="541.50" y="347.40" font-size="17.5" text-anchor="middle" fill="#1a1a1a" stroke="#1a1a1a" stroke-width="0.15" textLength="18" lengthAdjust="spacingAndGlyphs">54</text>
<line x1="501.00" y1="300.00" x2="501.00" y2="365.00" stroke="#262626" stroke-width="1.0"/>
<line x1="581.00" y1="285.00" x2="581.00" y2="400.00" stroke="#262626" stroke-width="1.0"/>
<line x1="594.60" y1="359.00" x2="660.70" y2="359.00" stroke="#262626" stroke-width="1.0"/>
<polygon points="594.60,358.60 609.60,355.50 609.60,361.70" fill="#000"/>
<polygon points="660.70,358.60 645.70,361.70 645.70,355.50" fill="#000"/>
<text x="627.60" y="349.70" font-size="17.5" text-anchor="middle" fill="#1a1a1a" stroke="#1a1a1a" stroke-width="0.15" textLength="18" lengthAdjust="spacingAndGlyphs">44</text>
<line x1="595.00" y1="332.00" x2="595.00" y2="367.00" stroke="#262626" stroke-width="1.0"/>
<line x1="661.00" y1="325.00" x2="661.00" y2="367.00" stroke="#262626" stroke-width="1.0"/>
<line x1="581.30" y1="390.00" x2="674.00" y2="390.00" stroke="#262626" stroke-width="1.0"/>
<polygon points="581.30,389.60 596.30,386.50 596.30,392.70" fill="#000"/>
<polygon points="674.00,389.60 659.00,392.70 659.00,386.50" fill="#000"/>
<text x="627.60" y="380.70" font-size="17.5" text-anchor="middle" fill="#1a1a1a" stroke="#1a1a1a" stroke-width="0.15" textLength="18" lengthAdjust="spacingAndGlyphs">62</text>
<line x1="674.00" y1="285.00" x2="674.00" y2="398.00" stroke="#262626" stroke-width="1.0"/>
<line x1="470.70" y1="236.00" x2="500.50" y2="236.00" stroke="#262626" stroke-width="1.0"/>
<line x1="470.70" y1="266.00" x2="500.50" y2="266.00" stroke="#262626" stroke-width="1.0"/>
<line x1="475.00" y1="205.70" x2="475.00" y2="294.30" stroke="#262626" stroke-width="1.0"/>
<polygon points="475.40,235.50 472.40,222.50 478.40,222.50" fill="#000"/>
<polygon points="475.40,265.50 478.40,278.50 472.40,278.50" fill="#000"/>
<text x="461.50" y="279.50" font-size="17.5" text-anchor="middle" fill="#1a1a1a" stroke="#1a1a1a" stroke-width="0.15" textLength="53" lengthAdjust="spacingAndGlyphs" transform="rotate(-90 461.50 279.50)">&#216;20 g7</text>
<text x="451.00" y="219.70" font-size="12.5" text-anchor="middle" fill="#1a1a1a" stroke="#1a1a1a" stroke-width="0.15" textLength="37" lengthAdjust="spacingAndGlyphs" transform="rotate(-90 451.00 219.70)">- 0,007</text>
<text x="464.60" y="219.70" font-size="12.5" text-anchor="middle" fill="#1a1a1a" stroke="#1a1a1a" stroke-width="0.15" textLength="37" lengthAdjust="spacingAndGlyphs" transform="rotate(-90 464.60 219.70)">- 0,028</text>
<path d="M442,240.5 Q454,252.7 466,240.5" fill="none" stroke="#161616" stroke-width="1.6" />
<path d="M442,201 Q454,189.5 466,201" fill="none" stroke="#161616" stroke-width="1.6" />
<text x="936.50" y="156.00" font-size="20" text-anchor="middle" fill="#1a1a1a" stroke="#1a1a1a" stroke-width="0.15" textLength="86" lengthAdjust="spacingAndGlyphs">Option H:</text>
<text x="937.20" y="180.00" font-size="20" text-anchor="middle" fill="#1a1a1a" stroke="#1a1a1a" stroke-width="0.15" textLength="60" lengthAdjust="spacingAndGlyphs">Hollow</text>
<circle cx="934.20" cy="278.50" r="53.50" fill="none" stroke="#000" stroke-width="3.2"/>
<circle cx="934.20" cy="278.50" r="42.50" fill="none" stroke="#161616" stroke-width="1.3"/>
<line x1="971.66" y1="298.67" x2="980.23" y2="303.83" stroke="#111" stroke-width="1.2"/>
<line x1="969.60" y1="302.10" x2="978.17" y2="307.25" stroke="#111" stroke-width="1.2"/>
<line x1="959.62" y1="312.62" x2="965.22" y2="320.91" stroke="#111" stroke-width="1.2"/>
<line x1="956.31" y1="314.85" x2="961.90" y2="323.14" stroke="#111" stroke-width="1.2"/>
<line x1="912.09" y1="314.85" x2="906.50" y2="323.14" stroke="#111" stroke-width="1.2"/>
<line x1="908.78" y1="312.62" x2="903.18" y2="320.91" stroke="#111" stroke-width="1.2"/>
<line x1="898.80" y1="302.10" x2="890.23" y2="307.25" stroke="#111" stroke-width="1.2"/>
<line x1="896.74" y1="298.67" x2="888.17" y2="303.83" stroke="#111" stroke-width="1.2"/>
<line x1="896.74" y1="258.33" x2="888.17" y2="253.17" stroke="#111" stroke-width="1.2"/>
<line x1="898.80" y1="254.90" x2="890.23" y2="249.75" stroke="#111" stroke-width="1.2"/>
<line x1="908.78" y1="244.38" x2="903.18" y2="236.09" stroke="#111" stroke-width="1.2"/>
<line x1="912.09" y1="242.15" x2="906.50" y2="233.86" stroke="#111" stroke-width="1.2"/>
<line x1="956.31" y1="242.15" x2="961.90" y2="233.86" stroke="#111" stroke-width="1.2"/>
<line x1="959.62" y1="244.38" x2="965.22" y2="236.09" stroke="#111" stroke-width="1.2"/>
<line x1="969.60" y1="254.90" x2="978.17" y2="249.75" stroke="#111" stroke-width="1.2"/>
<line x1="971.66" y1="258.33" x2="980.23" y2="253.17" stroke="#111" stroke-width="1.2"/>
<circle cx="934.20" cy="278.50" r="40.30" fill="none" stroke="#161616" stroke-width="0.8"/>
<circle cx="934.20" cy="278.50" r="33.00" fill="none" stroke="#161616" stroke-width="0.7"/>
<circle cx="934.20" cy="278.50" r="30.60" fill="none" stroke="#161616" stroke-width="1.3"/>
<circle cx="934.20" cy="278.50" r="28.60" fill="none" stroke="#161616" stroke-width="1.1"/>
<circle cx="934.20" cy="278.50" r="21.20" fill="none" stroke="#161616" stroke-width="1.2"/>
<circle cx="934.20" cy="278.50" r="19.00" fill="none" stroke="#161616" stroke-width="1.1"/>
<circle cx="934.20" cy="278.50" r="15.30" fill="none" stroke="#161616" stroke-width="0.9"/>
<circle cx="934.20" cy="278.50" r="12.20" fill="none" stroke="#161616" stroke-width="1.5"/>
<line x1="891.00" y1="278.50" x2="973.00" y2="278.50" stroke="#222" stroke-width="1.0"/>
<line x1="934.20" y1="234.00" x2="934.20" y2="322.00" stroke="#222" stroke-width="1.0"/>
<line x1="930.00" y1="212.00" x2="930.00" y2="266.50" stroke="#222" stroke-width="1.0"/>
<line x1="937.50" y1="212.00" x2="937.50" y2="266.50" stroke="#222" stroke-width="1.0"/>
<path d="M930,266.8 L930,263.6 L937.5,263.6 L937.5,266.8" fill="none" stroke="#161616" stroke-width="1.1" />
<line x1="850.30" y1="220.00" x2="967.00" y2="220.00" stroke="#262626" stroke-width="1.0"/>
<polygon points="930.00,220.40 916.00,223.65 916.00,217.15" fill="#000"/>
<polygon points="937.50,220.40 951.50,217.15 951.50,223.65" fill="#000"/>
<text x="858.80" y="206.20" font-size="17.5" text-anchor="middle" fill="#1a1a1a" stroke="#1a1a1a" stroke-width="0.15" textLength="10" lengthAdjust="spacingAndGlyphs">5</text>
<text x="885.50" y="197.40" font-size="11.5" text-anchor="middle" fill="#1a1a1a" stroke="#1a1a1a" stroke-width="0.15" textLength="34" lengthAdjust="spacingAndGlyphs">+ 0,04</text>
<text x="885.50" y="210.00" font-size="11.5" text-anchor="middle" fill="#1a1a1a" stroke="#1a1a1a" stroke-width="0.15" textLength="34" lengthAdjust="spacingAndGlyphs">+ 0,01</text>
<line x1="934.00" y1="264.00" x2="1025.40" y2="264.00" stroke="#262626" stroke-width="1.0"/>
<line x1="934.00" y1="290.00" x2="1025.40" y2="290.00" stroke="#262626" stroke-width="1.0"/>
<line x1="1016.00" y1="184.40" x2="1016.00" y2="320.00" stroke="#262626" stroke-width="1.0"/>
<polygon points="1016.00,264.00 1012.75,250.00 1019.25,250.00" fill="#000"/>
<polygon points="1016.00,289.80 1019.25,303.80 1012.75,303.80" fill="#000"/>
<text x="1001.80" y="231.00" font-size="17.5" text-anchor="middle" fill="#1a1a1a" stroke="#1a1a1a" stroke-width="0.15" textLength="31" lengthAdjust="spacingAndGlyphs" transform="rotate(-90 1001.80 231.00)">17,3</text>
<text x="995.80" y="201.70" font-size="11.5" text-anchor="middle" fill="#1a1a1a" stroke="#1a1a1a" stroke-width="0.15" textLength="25" lengthAdjust="spacingAndGlyphs" transform="rotate(-90 995.80 201.70)">+0,2</text>
<text x="1007.00" y="202.70" font-size="11.5" text-anchor="middle" fill="#1a1a1a" stroke="#1a1a1a" stroke-width="0.15" textLength="7" lengthAdjust="spacingAndGlyphs" transform="rotate(-90 1007.00 202.70)">0</text>
<polyline points="1104.00,362.00 962.00,362.00 921.00,240.00" fill="none" stroke="#262626" stroke-width="1.0"/>
<polygon points="929.50,268.50 922.51,257.14 928.19,255.22" fill="#000"/>
<polygon points="939.00,290.30 945.99,301.66 940.31,303.58" fill="#000"/>
<text x="985.00" y="347.00" font-size="17.5" text-anchor="start" fill="#1a1a1a" stroke="#1a1a1a" stroke-width="0.15" textLength="54" lengthAdjust="spacingAndGlyphs">&#216;15 H7</text>
<text x="1071.50" y="338.00" font-size="11.5" text-anchor="middle" fill="#1a1a1a" stroke="#1a1a1a" stroke-width="0.15" textLength="38" lengthAdjust="spacingAndGlyphs">+0,018</text>
<text x="1064.00" y="350.00" font-size="11.5" text-anchor="middle" fill="#1a1a1a" stroke="#1a1a1a" stroke-width="0.15" textLength="7" lengthAdjust="spacingAndGlyphs">0</text>
<path d="M1050,329.6 Q1040.5,341 1050,352.7" fill="none" stroke="#161616" stroke-width="1.9" />
<path d="M1093.5,329.6 Q1103,341 1093.5,352.7" fill="none" stroke="#161616" stroke-width="1.9" />
</svg>
</body></html>
